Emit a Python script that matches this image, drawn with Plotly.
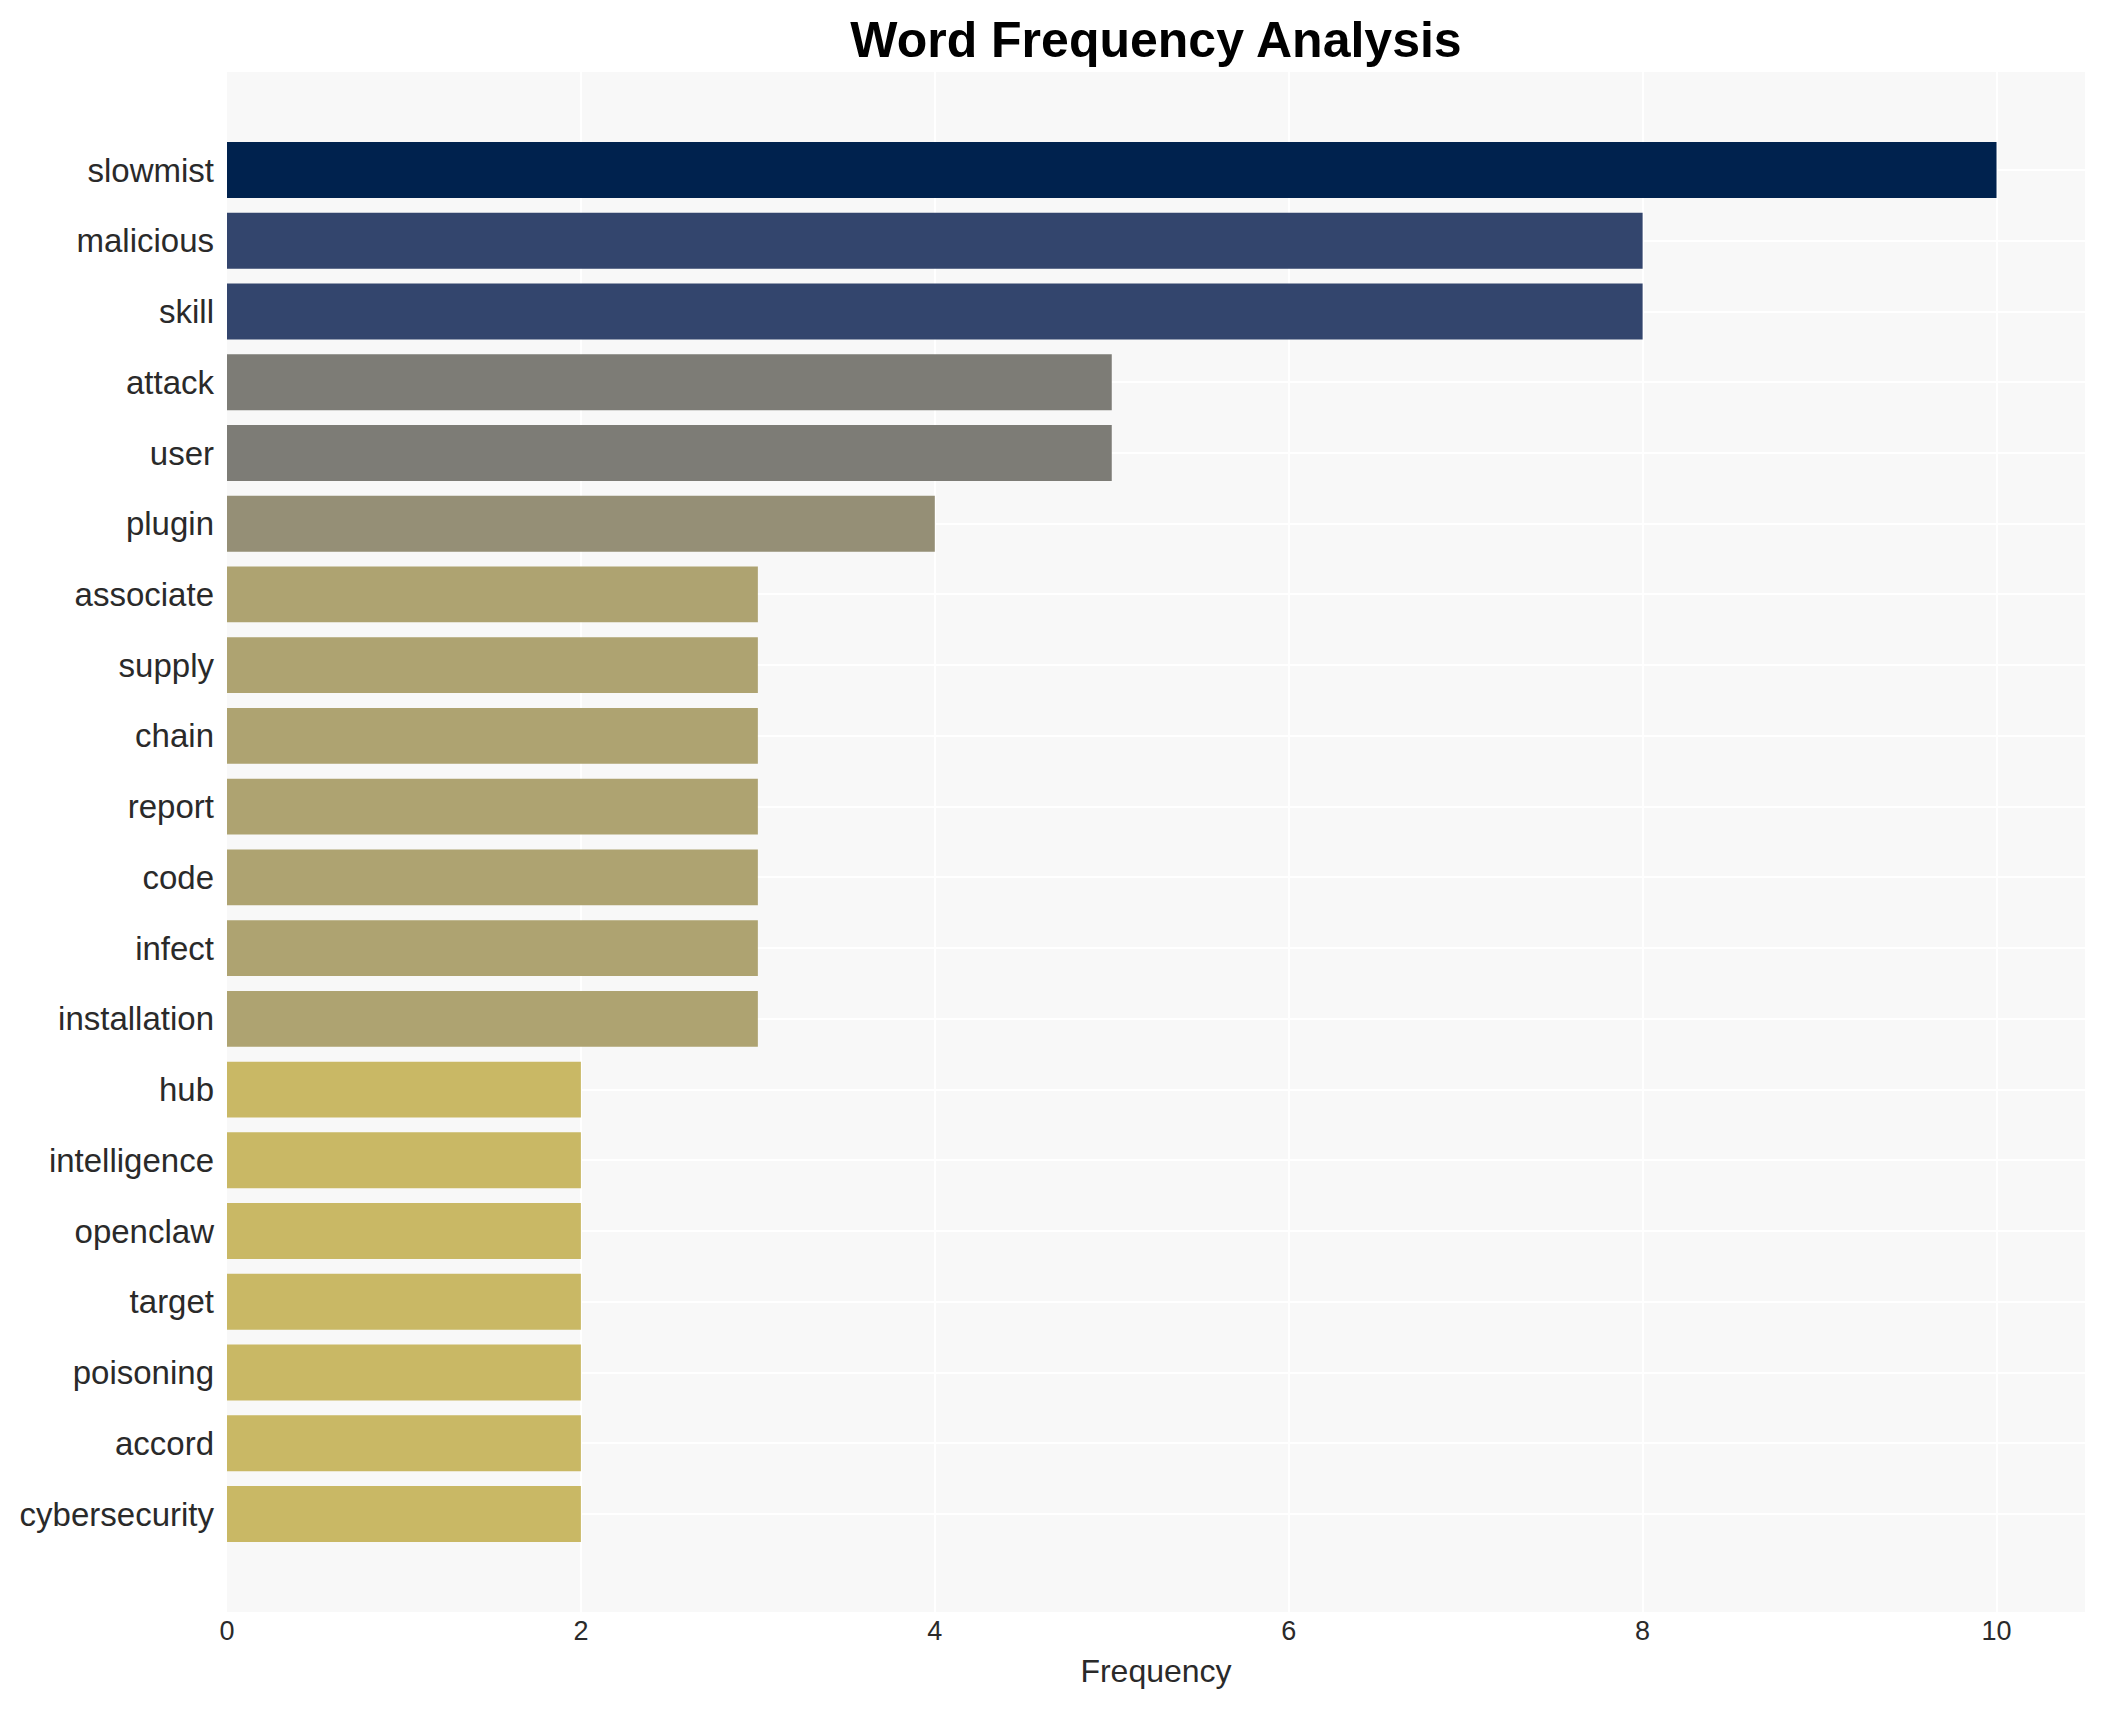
import plotly.graph_objects as go

words = ["slowmist", "malicious", "skill", "attack", "user", "plugin", "associate",
         "supply", "chain", "report", "code", "infect", "installation", "hub",
         "intelligence", "openclaw", "target", "poisoning", "accord", "cybersecurity"]
counts = [10, 8, 8, 5, 5, 4, 3, 3, 3, 3, 3, 3, 3, 2, 2, 2, 2, 2, 2, 2]
x_ticks = [0, 2, 4, 6, 8, 10]

fig = go.Figure(go.Bar(
    x=counts,
    y=words,
    orientation="h",
    marker=dict(color=counts, colorscale="Cividis", reversescale=True,
                cmin=0, cmax=10, line=dict(width=0)),
    showlegend=False,
))

fig.update_layout(
    width=2089,
    height=1694,
    margin=dict(l=217, r=12, t=64, b=90),
    paper_bgcolor="white",
    plot_bgcolor="#f8f8f8",
    bargap=0.21,
    font=dict(family="Liberation Sans, Arial, sans-serif", color="#2a2a2a"),
    title=dict(text="<b>Word Frequency Analysis</b>", x=0.5, xref="paper",
               xanchor="center", y=1 - 31 / 1694, yref="container", yanchor="middle",
               font=dict(size=50, color="black", family="Liberation Sans, Arial, sans-serif")),
    xaxis=dict(
        title=dict(text="Frequency", font=dict(size=32), standoff=14),
        range=[0, 10.5],
        tickvals=x_ticks,
        tickfont=dict(size=27),
        showgrid=True, gridcolor="white", gridwidth=2,
        zeroline=False, showline=False, ticks="",
    ),
    yaxis=dict(
        categoryorder="array", categoryarray=words,
        range=[19 + 1.386, -1.386],
        tickfont=dict(size=33),
        ticklabelstandoff=12,
        showgrid=True, gridcolor="white", gridwidth=2,
        zeroline=False, showline=False, ticks="",
    ),
)

fig.write_html("out.html")
